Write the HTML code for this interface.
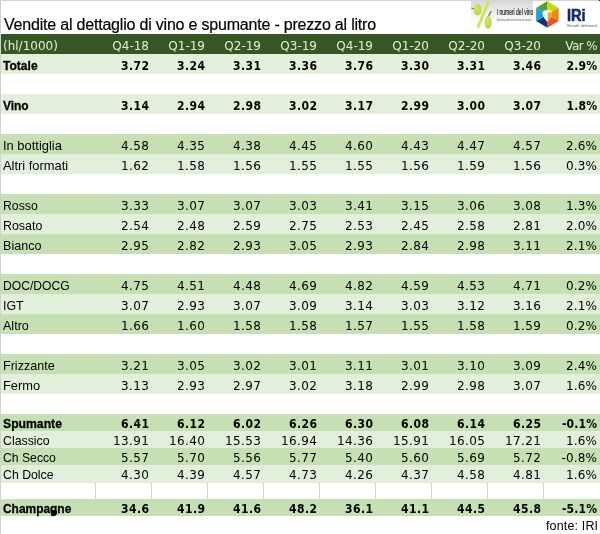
<!DOCTYPE html>
<html><head><meta charset="utf-8"><style>
*{margin:0;padding:0;box-sizing:border-box}
html,body{width:600px;height:534px;overflow:hidden;background:#fff}
body{position:relative;font-family:"Liberation Sans",Arial,sans-serif;color:#000}
.edge-l{position:absolute;left:0;top:0;width:1px;height:534px;background:#d0d0d0}
.edge-t{position:absolute;left:0;top:0;width:600px;height:1px;background:#d4d4d4}
.title{position:absolute;left:4px;top:15px;font-size:16px;line-height:20px;white-space:nowrap;color:#000;letter-spacing:-0.2px;-webkit-text-stroke:0.2px #000}
.bg,.hd{position:absolute;left:1px;width:599px}
.hd{background:#375623}
.t{position:absolute;white-space:nowrap;line-height:14px;height:14px}
.lab{left:3px}
.num{text-align:right;width:54px}
.hdt{color:#e2efda;font-family:"DejaVu Sans",sans-serif;font-size:12px}
.lr{font-size:13px;transform-origin:0 0}
.lb{font-size:13px;font-weight:bold;transform-origin:0 0;-webkit-text-stroke:0.3px #000}
.nr{font-family:"DejaVu Sans",sans-serif;font-size:12px;letter-spacing:0.4px;width:54.4px}
.nb{font-family:"DejaVu Sans",sans-serif;font-stretch:condensed;font-weight:bold;font-size:12px;letter-spacing:0.45px;width:54.45px}
.nr.pc,.nb.pc{letter-spacing:0.15px;width:54.15px}
.vp{letter-spacing:-0.6px}
.vl{position:absolute;width:1px;background:#d4d4d4}
.fonte{position:absolute;left:546px;top:518.7px;font-size:12.5px;line-height:14px;white-space:nowrap;letter-spacing:0.15px}
</style></head><body>
<div class="edge-t"></div><div class="edge-l"></div>
<div class="title">Vendite al dettaglio di vino e spumante - prezzo al litro</div>
<div class="hd" style="top:34px;height:20px"></div><div class="t lab hdt" style="top:39px">(hl/1000)</div><div class="t num hdt" style="left:95px;top:39px">Q4-18</div><div class="t num hdt" style="left:151px;top:39px">Q1-19</div><div class="t num hdt" style="left:207px;top:39px">Q2-19</div><div class="t num hdt" style="left:263px;top:39px">Q3-19</div><div class="t num hdt" style="left:319px;top:39px">Q4-19</div><div class="t num hdt" style="left:375px;top:39px">Q1-20</div><div class="t num hdt" style="left:431px;top:39px">Q2-20</div><div class="t num hdt" style="left:487px;top:39px">Q3-20</div><div class="t num hdt pc vp" style="left:543px;top:39px">Var %</div>
<div class="bg" style="top:54px;height:20px;background:#e2efda"></div><div class="t lab lb" style="top:59px;transform:scaleX(0.9270)">Totale</div><div class="t num nb" style="left:95px;top:59px">3.72</div><div class="t num nb" style="left:151px;top:59px">3.24</div><div class="t num nb" style="left:207px;top:59px">3.31</div><div class="t num nb" style="left:263px;top:59px">3.36</div><div class="t num nb" style="left:319px;top:59px">3.76</div><div class="t num nb" style="left:375px;top:59px">3.30</div><div class="t num nb" style="left:431px;top:59px">3.31</div><div class="t num nb" style="left:487px;top:59px">3.46</div><div class="t num nb pc" style="left:543px;top:59px">2.9%</div>
<div class="bg" style="top:94px;height:20px;background:#e2efda"></div><div class="t lab lb" style="top:99px;transform:scaleX(0.9190)">Vino</div><div class="t num nb" style="left:95px;top:99px">3.14</div><div class="t num nb" style="left:151px;top:99px">2.94</div><div class="t num nb" style="left:207px;top:99px">2.98</div><div class="t num nb" style="left:263px;top:99px">3.02</div><div class="t num nb" style="left:319px;top:99px">3.17</div><div class="t num nb" style="left:375px;top:99px">2.99</div><div class="t num nb" style="left:431px;top:99px">3.00</div><div class="t num nb" style="left:487px;top:99px">3.07</div><div class="t num nb pc" style="left:543px;top:99px">1.8%</div>
<div class="bg" style="top:134px;height:20px;background:#c6e0b4"></div><div class="t lab lr" style="top:139px;transform:scaleX(0.9930)">In bottiglia</div><div class="t num nr" style="left:95px;top:139px">4.58</div><div class="t num nr" style="left:151px;top:139px">4.35</div><div class="t num nr" style="left:207px;top:139px">4.38</div><div class="t num nr" style="left:263px;top:139px">4.45</div><div class="t num nr" style="left:319px;top:139px">4.60</div><div class="t num nr" style="left:375px;top:139px">4.43</div><div class="t num nr" style="left:431px;top:139px">4.47</div><div class="t num nr" style="left:487px;top:139px">4.57</div><div class="t num nr pc" style="left:543px;top:139px">2.6%</div>
<div class="bg" style="top:154px;height:20px;background:#e2efda"></div><div class="t lab lr" style="top:159px;transform:scaleX(0.9920)">Altri formati</div><div class="t num nr" style="left:95px;top:159px">1.62</div><div class="t num nr" style="left:151px;top:159px">1.58</div><div class="t num nr" style="left:207px;top:159px">1.56</div><div class="t num nr" style="left:263px;top:159px">1.55</div><div class="t num nr" style="left:319px;top:159px">1.55</div><div class="t num nr" style="left:375px;top:159px">1.56</div><div class="t num nr" style="left:431px;top:159px">1.59</div><div class="t num nr" style="left:487px;top:159px">1.56</div><div class="t num nr pc" style="left:543px;top:159px">0.3%</div>
<div class="bg" style="top:194px;height:20px;background:#c6e0b4"></div><div class="t lab lr" style="top:199px;transform:scaleX(0.9430)">Rosso</div><div class="t num nr" style="left:95px;top:199px">3.33</div><div class="t num nr" style="left:151px;top:199px">3.07</div><div class="t num nr" style="left:207px;top:199px">3.07</div><div class="t num nr" style="left:263px;top:199px">3.03</div><div class="t num nr" style="left:319px;top:199px">3.41</div><div class="t num nr" style="left:375px;top:199px">3.15</div><div class="t num nr" style="left:431px;top:199px">3.06</div><div class="t num nr" style="left:487px;top:199px">3.08</div><div class="t num nr pc" style="left:543px;top:199px">1.3%</div>
<div class="bg" style="top:214px;height:20px;background:#e2efda"></div><div class="t lab lr" style="top:219px;transform:scaleX(0.9550)">Rosato</div><div class="t num nr" style="left:95px;top:219px">2.54</div><div class="t num nr" style="left:151px;top:219px">2.48</div><div class="t num nr" style="left:207px;top:219px">2.59</div><div class="t num nr" style="left:263px;top:219px">2.75</div><div class="t num nr" style="left:319px;top:219px">2.53</div><div class="t num nr" style="left:375px;top:219px">2.45</div><div class="t num nr" style="left:431px;top:219px">2.58</div><div class="t num nr" style="left:487px;top:219px">2.81</div><div class="t num nr pc" style="left:543px;top:219px">2.0%</div>
<div class="bg" style="top:234px;height:20px;background:#c6e0b4"></div><div class="t lab lr" style="top:239px;transform:scaleX(0.9660)">Bianco</div><div class="t num nr" style="left:95px;top:239px">2.95</div><div class="t num nr" style="left:151px;top:239px">2.82</div><div class="t num nr" style="left:207px;top:239px">2.93</div><div class="t num nr" style="left:263px;top:239px">3.05</div><div class="t num nr" style="left:319px;top:239px">2.93</div><div class="t num nr" style="left:375px;top:239px">2.84</div><div class="t num nr" style="left:431px;top:239px">2.98</div><div class="t num nr" style="left:487px;top:239px">3.11</div><div class="t num nr pc" style="left:543px;top:239px">2.1%</div>
<div class="bg" style="top:274px;height:20px;background:#c6e0b4"></div><div class="t lab lr" style="top:279px;transform:scaleX(0.9340)">DOC/DOCG</div><div class="t num nr" style="left:95px;top:279px">4.75</div><div class="t num nr" style="left:151px;top:279px">4.51</div><div class="t num nr" style="left:207px;top:279px">4.48</div><div class="t num nr" style="left:263px;top:279px">4.69</div><div class="t num nr" style="left:319px;top:279px">4.82</div><div class="t num nr" style="left:375px;top:279px">4.59</div><div class="t num nr" style="left:431px;top:279px">4.53</div><div class="t num nr" style="left:487px;top:279px">4.71</div><div class="t num nr pc" style="left:543px;top:279px">0.2%</div>
<div class="bg" style="top:294px;height:20px;background:#e2efda"></div><div class="t lab lr" style="top:299px;transform:scaleX(0.9550)">IGT</div><div class="t num nr" style="left:95px;top:299px">3.07</div><div class="t num nr" style="left:151px;top:299px">2.93</div><div class="t num nr" style="left:207px;top:299px">3.07</div><div class="t num nr" style="left:263px;top:299px">3.09</div><div class="t num nr" style="left:319px;top:299px">3.14</div><div class="t num nr" style="left:375px;top:299px">3.03</div><div class="t num nr" style="left:431px;top:299px">3.12</div><div class="t num nr" style="left:487px;top:299px">3.16</div><div class="t num nr pc" style="left:543px;top:299px">2.1%</div>
<div class="bg" style="top:314px;height:20px;background:#c6e0b4"></div><div class="t lab lr" style="top:319px;transform:scaleX(0.9650)">Altro</div><div class="t num nr" style="left:95px;top:319px">1.66</div><div class="t num nr" style="left:151px;top:319px">1.60</div><div class="t num nr" style="left:207px;top:319px">1.58</div><div class="t num nr" style="left:263px;top:319px">1.58</div><div class="t num nr" style="left:319px;top:319px">1.57</div><div class="t num nr" style="left:375px;top:319px">1.55</div><div class="t num nr" style="left:431px;top:319px">1.58</div><div class="t num nr" style="left:487px;top:319px">1.59</div><div class="t num nr pc" style="left:543px;top:319px">0.2%</div>
<div class="bg" style="top:354px;height:20px;background:#c6e0b4"></div><div class="t lab lr" style="top:359px;transform:scaleX(0.9670)">Frizzante</div><div class="t num nr" style="left:95px;top:359px">3.21</div><div class="t num nr" style="left:151px;top:359px">3.05</div><div class="t num nr" style="left:207px;top:359px">3.02</div><div class="t num nr" style="left:263px;top:359px">3.01</div><div class="t num nr" style="left:319px;top:359px">3.11</div><div class="t num nr" style="left:375px;top:359px">3.01</div><div class="t num nr" style="left:431px;top:359px">3.10</div><div class="t num nr" style="left:487px;top:359px">3.09</div><div class="t num nr pc" style="left:543px;top:359px">2.4%</div>
<div class="bg" style="top:374px;height:20px;background:#e2efda"></div><div class="t lab lr" style="top:379px;transform:scaleX(0.9860)">Fermo</div><div class="t num nr" style="left:95px;top:379px">3.13</div><div class="t num nr" style="left:151px;top:379px">2.93</div><div class="t num nr" style="left:207px;top:379px">2.97</div><div class="t num nr" style="left:263px;top:379px">3.02</div><div class="t num nr" style="left:319px;top:379px">3.18</div><div class="t num nr" style="left:375px;top:379px">2.99</div><div class="t num nr" style="left:431px;top:379px">2.98</div><div class="t num nr" style="left:487px;top:379px">3.07</div><div class="t num nr pc" style="left:543px;top:379px">1.6%</div>
<div class="bg" style="top:414px;height:17px;background:#c6e0b4"></div><div class="t lab lb" style="top:417px;transform:scaleX(0.9380)">Spumante</div><div class="t num nb" style="left:95px;top:417px">6.41</div><div class="t num nb" style="left:151px;top:417px">6.12</div><div class="t num nb" style="left:207px;top:417px">6.02</div><div class="t num nb" style="left:263px;top:417px">6.26</div><div class="t num nb" style="left:319px;top:417px">6.30</div><div class="t num nb" style="left:375px;top:417px">6.08</div><div class="t num nb" style="left:431px;top:417px">6.14</div><div class="t num nb" style="left:487px;top:417px">6.25</div><div class="t num nb pc" style="left:543px;top:417px">-0.1%</div>
<div class="bg" style="top:431px;height:17px;background:#e2efda"></div><div class="t lab lr" style="top:434px;transform:scaleX(0.9480)">Classico</div><div class="t num nr" style="left:95px;top:434px">13.91</div><div class="t num nr" style="left:151px;top:434px">16.40</div><div class="t num nr" style="left:207px;top:434px">15.53</div><div class="t num nr" style="left:263px;top:434px">16.94</div><div class="t num nr" style="left:319px;top:434px">14.36</div><div class="t num nr" style="left:375px;top:434px">15.91</div><div class="t num nr" style="left:431px;top:434px">16.05</div><div class="t num nr" style="left:487px;top:434px">17.21</div><div class="t num nr pc" style="left:543px;top:434px">1.6%</div>
<div class="bg" style="top:448px;height:17px;background:#c6e0b4"></div><div class="t lab lr" style="top:451px;transform:scaleX(0.9380)">Ch Secco</div><div class="t num nr" style="left:95px;top:451px">5.57</div><div class="t num nr" style="left:151px;top:451px">5.70</div><div class="t num nr" style="left:207px;top:451px">5.56</div><div class="t num nr" style="left:263px;top:451px">5.77</div><div class="t num nr" style="left:319px;top:451px">5.40</div><div class="t num nr" style="left:375px;top:451px">5.60</div><div class="t num nr" style="left:431px;top:451px">5.69</div><div class="t num nr" style="left:487px;top:451px">5.72</div><div class="t num nr pc" style="left:543px;top:451px">-0.8%</div>
<div class="bg" style="top:465px;height:18px;background:#e2efda"></div><div class="t lab lr" style="top:468px;transform:scaleX(0.9460)">Ch Dolce</div><div class="t num nr" style="left:95px;top:468px">4.30</div><div class="t num nr" style="left:151px;top:468px">4.39</div><div class="t num nr" style="left:207px;top:468px">4.57</div><div class="t num nr" style="left:263px;top:468px">4.73</div><div class="t num nr" style="left:319px;top:468px">4.26</div><div class="t num nr" style="left:375px;top:468px">4.37</div><div class="t num nr" style="left:431px;top:468px">4.58</div><div class="t num nr" style="left:487px;top:468px">4.81</div><div class="t num nr pc" style="left:543px;top:468px">1.6%</div>
<div class="vl" style="left:95px;top:483px;height:16px"></div><div class="vl" style="left:151px;top:483px;height:16px"></div><div class="vl" style="left:207px;top:483px;height:16px"></div><div class="vl" style="left:263px;top:483px;height:16px"></div><div class="vl" style="left:319px;top:483px;height:16px"></div><div class="vl" style="left:375px;top:483px;height:16px"></div><div class="vl" style="left:431px;top:483px;height:16px"></div><div class="vl" style="left:487px;top:483px;height:16px"></div><div class="vl" style="left:543px;top:483px;height:16px"></div>
<div class="bg" style="top:499px;height:17px;background:#c6e0b4"></div><div class="t lab lb" style="top:502px;transform:scaleX(0.9180)">Champagne</div><div class="t num nb" style="left:95px;top:502px">34.6</div><div class="t num nb" style="left:151px;top:502px">41.9</div><div class="t num nb" style="left:207px;top:502px">41.6</div><div class="t num nb" style="left:263px;top:502px">48.2</div><div class="t num nb" style="left:319px;top:502px">36.1</div><div class="t num nb" style="left:375px;top:502px">41.1</div><div class="t num nb" style="left:431px;top:502px">44.5</div><div class="t num nb" style="left:487px;top:502px">45.8</div><div class="t num nb pc" style="left:543px;top:502px">-5.1%</div>
<div class="fonte">fonte: IRI</div>
<div class="gblob" style="position:absolute;left:51px;top:510px;width:5.5px;height:4.5px;border-radius:50%;background:#000"></div>
<svg style="position:absolute;left:0;top:0" width="600" height="34" viewBox="0 0 600 34">
<defs>
<linearGradient id="gb" x1="0" y1="0" x2="0" y2="1">
<stop offset="0" stop-color="#d9d9d9"/><stop offset="0.6" stop-color="#fbfbfb"/><stop offset="1" stop-color="#ffffff"/>
</linearGradient>
<radialGradient id="gr" cx="0.4" cy="0.35" r="0.7">
<stop offset="0" stop-color="#d6e86a"/><stop offset="1" stop-color="#b9d030"/>
</radialGradient>
</defs>
<rect x="471" y="1" width="62" height="33" fill="url(#gb)"/>
<line x1="471.5" y1="8" x2="474.5" y2="9.2" stroke="#8b6d4a" stroke-width="1.1"/>
<ellipse cx="477.6" cy="9.6" rx="3.9" ry="5.9" fill="url(#gr)"/>
<line x1="488.2" y1="2.6" x2="478.2" y2="26.6" stroke="#d3e25e" stroke-width="2.8" stroke-linecap="round"/>
<line x1="488.4" y1="16" x2="491.4" y2="11" stroke="#6e5a40" stroke-width="1.1"/>
<ellipse cx="488.2" cy="22.3" rx="3.4" ry="6.6" fill="url(#gr)"/>
<text x="496.7" y="15.4" font-family="Liberation Sans, sans-serif" font-size="8.8" fill="#222" stroke="#222" stroke-width="0.2" textLength="36.6" lengthAdjust="spacingAndGlyphs">I numeri del vino</text>
<text x="496.7" y="20.6" font-family="Liberation Sans, sans-serif" font-size="2.6" fill="#555" textLength="34.6" lengthAdjust="spacingAndGlyphs">Statistiche, prodotto, dati di mercato e di consumo</text>
<g transform="translate(547.4,14.5)">
<polygon points="0,-13.4 -11.3,-6.6 0,0" fill="#4fa03c"/>
<polygon points="0,-13.4 11.3,-6.6 0,0" fill="#c9d716"/>
<polygon points="11.3,-6.6 11.3,6.6 0,0" fill="#ec8c05"/>
<polygon points="11.3,6.6 0,13.2 0,0" fill="#e2562d"/>
<polygon points="0,13.2 -11.3,6.6 0,0" fill="#15307c"/>
<polygon points="-11.3,6.6 -11.3,-6.6 0,0" fill="#1ca0db"/>
<path d="M0,7.6 C-1.8,4.8 -4.8,2.2 -4.8,-1 C-4.8,-3.5 -3,-4.6 0,-4.6 C3,-4.6 4.8,-3.5 4.8,-1 C4.8,2.2 1.8,4.8 0,7.6 Z" fill="#fbfdfe"/>
<path d="M0,7.6 C-1.8,4.8 -4.8,2.2 -4.8,-1 C-4.8,-1.8 -4.6,-2.4 -4.2,-2.9 C-2.6,-1.2 -1,1.5 0,7.6 Z" fill="#d3eaf5"/>
<path d="M0.2,-1.6 C1.6,-2.2 3.4,-2.4 4.8,-1.8 C4.8,2.2 1.8,4.8 0,7.6 C0.3,4 0.2,1 0.2,-1.6 Z" fill="#f4aa10"/>
</g>
<text x="567" y="20.7" font-family="Liberation Sans, sans-serif" font-weight="bold" font-size="17.4" fill="#15296c" stroke="#15296c" stroke-width="0.6" textLength="18.6" lengthAdjust="spacingAndGlyphs">IRi</text>
<text x="566.8" y="26.9" font-family="Liberation Sans, sans-serif" font-size="4.4" fill="#7a7a7a" stroke="#999" stroke-width="0.1" textLength="31" lengthAdjust="spacingAndGlyphs">Growth delivered.</text>
<rect x="0" y="0" width="600" height="1" fill="#d4d4d4"/>
<rect x="599" y="0" width="1" height="1" fill="#111"/>
</svg>
</body></html>
